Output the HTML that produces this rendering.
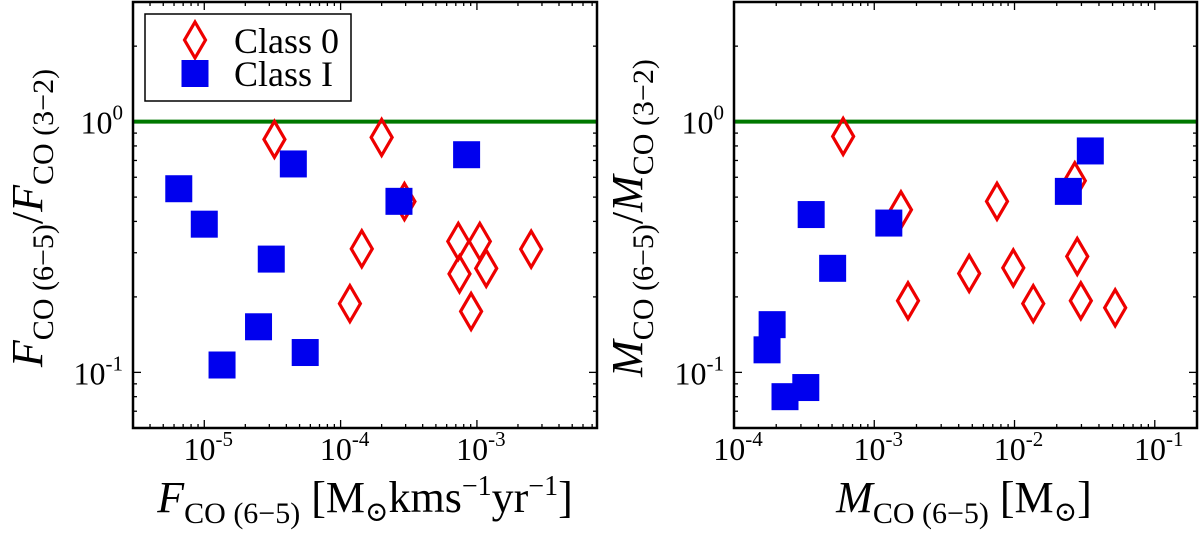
<!DOCTYPE html>
<html><head><meta charset="utf-8"><style>
html,body{margin:0;padding:0;background:#fff;}
svg text{font-family:"Liberation Serif","DejaVu Serif",serif;}
</style></head><body>
<svg id="c" width="1200" height="536" viewBox="0 0 1200 536" xmlns="http://www.w3.org/2000/svg" font-family="Liberation Serif, DejaVu Serif, serif">
<g id="L"></g>
<g id="R"></g>
</svg>
<script>
// Left panel data
const leftClass1X = [6.5e-6, 1.0e-5, 1.35e-5, 2.5e-5, 3.1e-5, 4.5e-5, 5.5e-5, 2.68e-4, 8.4e-4];
const leftClass1Y = [0.54, 0.39, 0.107, 0.152, 0.283, 0.678, 0.12, 0.481, 0.738];
const leftClass0X = [3.27e-5, 2.0e-4, 2.94e-4, 1.43e-4, 1.17e-4, 7.3e-4, 1.05e-3, 7.45e-4, 1.17e-3, 9.06e-4, 2.5e-3];
const leftClass0Y = [0.85, 0.865, 0.48, 0.311, 0.188, 0.333, 0.333, 0.247, 0.26, 0.175, 0.31];
// Right panel data
const rightClass1X = [1.87e-4, 1.72e-4, 2.31e-4, 3.25e-4, 3.55e-4, 5.05e-4, 1.27e-3, 0.0242, 0.0347];
const rightClass1Y = [0.155, 0.123, 0.080, 0.087, 0.426, 0.26, 0.394, 0.527, 0.764];
const rightClass0X = [6.0e-4, 1.55e-3, 1.74e-3, 4.75e-3, 7.5e-3, 9.8e-3, 0.0136, 0.0269, 0.028, 0.0297, 0.0522];
const rightClass0Y = [0.873, 0.445, 0.193, 0.248, 0.481, 0.261, 0.188, 0.581, 0.29, 0.193, 0.181];
const leftXTicks = [-5, -4, -3];
const rightXTicks = [-4, -3, -2, -1];
const yTicks = [-1, 0];
const refLine = 1.0;

const NS = "http://www.w3.org/2000/svg";
const FF = '"Liberation Serif", "DejaVu Serif", serif';
function mk(parent, tag, attrs) {
  const e = document.createElementNS(NS, tag);
  for (const k in attrs) e.setAttribute(k, attrs[k]);
  if (tag === 'text') e.style.fontFamily = FF;
  parent.appendChild(e);
  return e;
}
const Y0 = 2, Y1 = 428;
const yMin = Math.log10(0.06), yMax = Math.log10(3);
function sy(v) { return Y1 - (Math.log10(v) - yMin) / (yMax - yMin) * (Y1 - Y0); }

function panel(g, x0, x1, xmin, xmax, xt, c1x, c1y, c0x, c0y) {
  const lx0 = Math.log10(xmin), lx1 = Math.log10(xmax);
  const sx = v => x0 + (Math.log10(v) - lx0) / (lx1 - lx0) * (x1 - x0);
  const tg = mk(g, 'g', {stroke: '#000', 'stroke-width': 1.3});
  
  
  for (let d = Math.floor(lx0); d <= Math.ceil(lx1); d++) {
    for (let m = 1; m <= 9; m++) {
      const v = m * Math.pow(10, d);
      if (v < xmin * 0.999 || v > xmax * 1.001) continue;
      const x = sx(v), L = m === 1 ? 8 : 4;
      mk(tg, 'line', {x1: x, x2: x, y1: Y1, y2: Y1 - L});
      mk(tg, 'line', {x1: x, x2: x, y1: Y0, y2: Y0 + L});
    }
  }
  for (let d = -2; d <= 0; d++) {
    for (let m = 1; m <= 9; m++) {
      const v = m * Math.pow(10, d);
      if (v < 0.06 || v > 3) continue;
      const y = sy(v), L = m === 1 ? 8 : 4;
      mk(tg, 'line', {x1: x0, x2: x0 + L, y1: y, y2: y});
      mk(tg, 'line', {x1: x1, x2: x1 - L, y1: y, y2: y});
    }
  }
  xt.forEach(p => {
    const t = mk(g, 'text', {x: sx(Math.pow(10, p)) + 4, y: 460, 'font-size': 32, 'text-anchor': 'middle'});
    
    
    t.innerHTML = '10<tspan font-size="21" dy="-14">' + p + '</tspan>';
  });
  yTicks.forEach(p => {
    const t = mk(g, 'text', {x: x0 - 10, y: sy(Math.pow(10, p)) + 12, 'font-size': 32, 'text-anchor': 'end'});
    
    
    t.innerHTML = '10<tspan font-size="21" dy="-14">' + p + '</tspan>';
  });
  const ln = mk(g, 'line', {x1: x0, x2: x1, y1: sy(refLine), y2: sy(refLine), stroke: '#007800', 'stroke-width': 4});
  
  
  c0x.forEach((v, i) => {
    const x = sx(v), y = sy(c0y[i]);
    const d = mk(g, 'polygon', {points: `${x},${y-18} ${x+10.5},${y} ${x},${y+18} ${x-10.5},${y}`, fill: 'none', stroke: '#ee0000', 'stroke-width': 3.2});
    
    
  });
  c1x.forEach((v, i) => {
    const x = sx(v), y = sy(c1y[i]);
    const r = mk(g, 'rect', {x: x - 13.5, y: y - 13.5, width: 27, height: 27, fill: '#0000ee'});
    
    
  });
  const fr = mk(g, 'rect', {x: x0, y: Y0, width: x1 - x0, height: Y1 - Y0, fill: 'none', stroke: '#000', 'stroke-width': 2.5});
  
  
}
const L = document.getElementById('L'), R = document.getElementById('R');
panel(L, 133, 597, 3e-6, 7.6e-3, leftXTicks, leftClass1X, leftClass1Y, leftClass0X, leftClass0Y);
panel(R, 734, 1197, 1e-4, 0.2, rightXTicks, rightClass1X, rightClass1Y, rightClass0X, rightClass0Y);

function lab(g, html, attrs, name) {
  const t = mk(g, 'text', attrs);
  
  
  t.innerHTML = html;
}
const sub = '<tspan font-size="30" dy="11">CO (6\u22125)</tspan>';
lab(L, '<tspan font-style="italic">F</tspan>' + sub + '<tspan dy="-11">  [M</tspan><tspan font-size="28" dy="9">\u2299</tspan><tspan dy="-9">kms</tspan><tspan font-size="28" dy="-17">\u22121</tspan><tspan dy="17">yr</tspan><tspan font-size="28" dy="-17">\u22121</tspan><tspan dy="17">]</tspan>',
  {x: 365, y: 512, 'font-size': 44, 'text-anchor': 'middle'}, 'x-axis-title');
lab(L, '<tspan font-style="italic">F</tspan>' + sub + '<tspan dy="-11">/</tspan><tspan font-style="italic">F</tspan><tspan font-size="30" dy="11">CO (3\u22122)</tspan>',
  {x: 0, y: 0, 'font-size': 44, 'text-anchor': 'middle', transform: 'translate(42,218) rotate(-90)'}, 'y-axis-title');
lab(R, '<tspan font-style="italic">M</tspan>' + sub + '<tspan dy="-11">  [M</tspan><tspan font-size="28" dy="9">\u2299</tspan><tspan dy="-9">]</tspan>',
  {x: 964, y: 512, 'font-size': 44, 'text-anchor': 'middle'}, 'x-axis-title');
lab(R, '<tspan font-style="italic">M</tspan>' + sub + '<tspan dy="-11">/</tspan><tspan font-style="italic">M</tspan><tspan font-size="30" dy="11">CO (3\u22122)</tspan>',
  {x: 0, y: 0, 'font-size': 44, 'text-anchor': 'middle', transform: 'translate(642,218) rotate(-90)'}, 'y-axis-title');

const lg = mk(L, 'g', {});


mk(lg, 'rect', {x: 145, y: 14, width: 206, height: 87, fill: '#fff', stroke: '#000', 'stroke-width': 1.5});
mk(lg, 'polygon', {points: '195,22 205.5,40 195,58 184.5,40', fill: 'none', stroke: '#ee0000', 'stroke-width': 3.2});
mk(lg, 'rect', {x: 181.5, y: 60, width: 27, height: 27, fill: '#0000ee'});
lab(lg, 'Class 0', {x: 234, y: 53, 'font-size': 36}, 'legend-class0');
lab(lg, 'Class I', {x: 234, y: 86, 'font-size': 36}, 'legend-class1');
</script>
</body></html>
